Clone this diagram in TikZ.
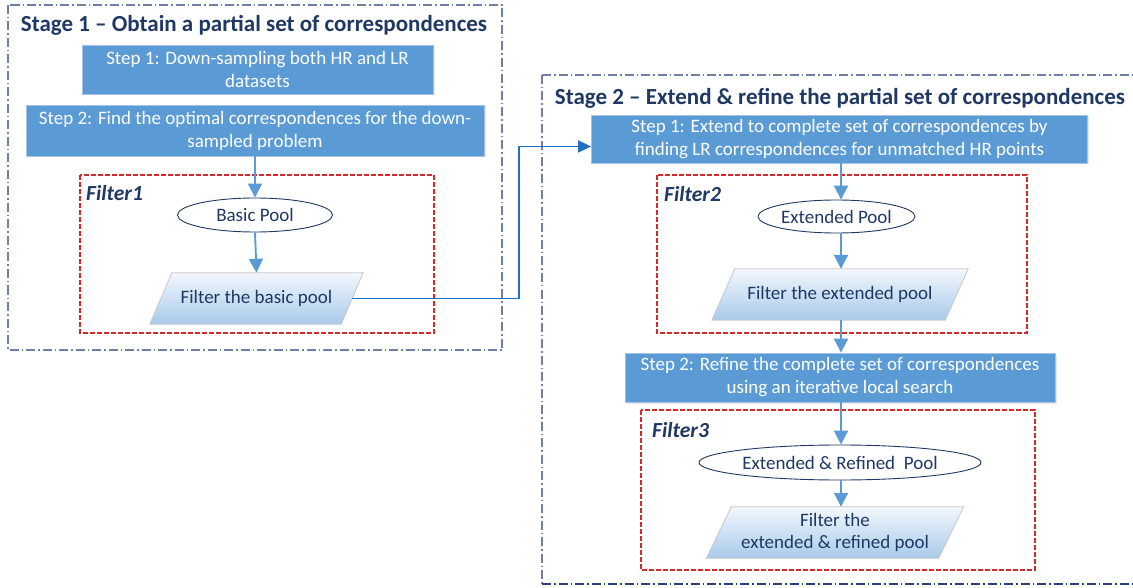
\documentclass[tikz,border=0pt]{standalone}
\usepackage{fontspec}
\setmainfont{Carlito}
\usetikzlibrary{shapes.geometric,arrows.meta,shadows,calc}
\pgfdeclarelayer{background}
\pgfsetlayers{background,main}
\definecolor{stepblue}{HTML}{5B9BD5}
\definecolor{stepedge}{HTML}{A7C3E3}
\definecolor{navy}{HTML}{1F3864}
\definecolor{linkblue}{HTML}{1F6FC0}
\definecolor{stageedge}{HTML}{6F7FA6}
\definecolor{stagedark}{HTML}{2A3F7E}
\definecolor{filterred}{HTML}{D42A2A}
\definecolor{paratop}{HTML}{F2F7FC}
\definecolor{parabot}{HTML}{A8CAEA}
\tikzset{
  stagebox/.style={draw=stageedge, line width=1.1pt,
    dash pattern=on 9pt off 3pt on 1.5pt off 3pt},
  filterbox/.style={draw=filterred, line width=1.2pt,
    dash pattern=on 5pt off 2pt},
  stagetitle/.style={text=navy, font=\fontsize{23}{26}\selectfont\bfseries, inner sep=0pt},
  filtertitle/.style={text=navy, font=\fontsize{21.5}{24}\selectfont\bfseries\itshape, inner sep=0pt, anchor=west},
  stepbox/.style={rectangle, fill=stepblue, draw=stepedge, line width=0.8pt,
    text=white, align=center, inner sep=0pt,
    font=\fontsize{19}{23}\selectfont,
    drop shadow={shadow xshift=1.5pt, shadow yshift=-1.5pt, opacity=0.18}},
  poolnode/.style={ellipse, draw=navy, line width=0.9pt, fill=white,
    text=navy, inner sep=0pt, font=\fontsize{19}{22}\selectfont},
  filternode/.style={rectangle, text=navy, align=center,
    inner sep=0pt, font=\fontsize{19}{22}\selectfont},
  parashape/.style={draw=black!22, line width=0.8pt,
    top color=paratop, bottom color=parabot},
  flow/.style={draw=stepblue, line width=1.9pt,
    -{Triangle[width=14pt,length=14pt]}},
  link/.style={draw=linkblue, line width=1.8pt,
    -{Triangle[width=12pt,length=13pt]}},
}
% slanted body behind a filter node: #1 node name, #2 half slant
\newcommand{\slantbody}[2]{%
  \begin{pgfonlayer}{background}
    \shade[parashape] ([xshift=-#2]#1.south west) -- ([xshift=-#2]#1.south east)
      -- ([xshift=#2]#1.north east) -- ([xshift=#2]#1.north west) -- cycle;
  \end{pgfonlayer}}
\begin{document}
\begin{tikzpicture}[x=1pt, y=-1pt]
\useasboundingbox (0,0) rectangle (1133,588);

% Stage frames
\draw[stagebox] (8,5) rectangle (502,350);
\draw[stagebox] (542,75) -- (1140,75);
\draw[stagebox] (542,75) -- (542,584);
\draw[stagebox, draw=stagedark] (542,584) -- (1140,584);

% Filter frames
\draw[filterbox] (80,175) rectangle (434,333);
\draw[filterbox] (657,175) rectangle (1027,333);
\draw[filterbox] (641,410) rectangle (1035,570);

% Stage 1
\node[stagetitle] (t1) at (254,25) {Stage 1 – Obtain a partial set of correspondences};
\node[stepbox, minimum width=351pt, minimum height=49pt] (a1) at (257.5,69.5)
  {Step 1: Down-sampling both HR and LR\\datasets};
\node[stepbox, minimum width=458pt, minimum height=51pt] (a2) at (255,130.5)
  {Step 2: Find the optimal correspondences for the down-\\sampled problem};
\node[filtertitle] (f1) at (86,193) {Filter1};
\node[poolnode, minimum width=155pt, minimum height=34pt] (p1) at (255,215) {Basic Pool};
\node[filternode, minimum width=191pt, minimum height=51pt] (q1) at (256.5,298.5)
  {Filter the basic pool};
\slantbody{q1}{11pt}

% Stage 2
\node[stagetitle] (t2) at (840,98) {Stage 2 – Extend \& refine the partial set of correspondences};
\node[stepbox, minimum width=496pt, minimum height=48pt] (b1) at (839.5,139)
  {Step 1: Extend to complete set of correspondences by\\finding LR correspondences for unmatched HR points};
\node[filtertitle] (f2) at (664,194) {Filter2};
\node[poolnode, minimum width=157pt, minimum height=33pt] (p2) at (836.5,216.5) {Extended Pool};
\node[filternode, minimum width=233pt, minimum height=51pt] (q2) at (840,294.5)
  {Filter the extended pool};
\slantbody{q2}{11.5pt}
\node[stepbox, minimum width=430pt, minimum height=49pt] (b2) at (840,377.5)
  {Step 2: Refine the complete set of correspondences\\using an iterative local search};
\node[filtertitle] (f3) at (652,430) {Filter3};
\node[poolnode, minimum width=282pt, minimum height=35pt] (p3) at (840,462.5)
  {Extended \& Refined\ \ Pool};
\node[filternode, minimum width=232pt, minimum height=51pt] (q3) at (835,532.5)
  {Filter the\\extended \& refined pool};
\slantbody{q3}{12.5pt}

% Flow arrows
\coordinate (axis) at (841,0);
\draw[flow] (a2.south) -- (p1.north);
\draw[flow] (p1.south) -- (q1.north);
\draw[flow] (b1.south -| axis) -- (p2.north -| axis);
\draw[flow] (p2.south -| axis) -- (q2.north -| axis);
\draw[flow] (q2.south -| axis) -- (b2.north -| axis);
\draw[flow] (b2.south -| axis) -- (p3.north -| axis);
\draw[flow] (p3.south -| axis) -- (q3.north -| axis);

% Link from stage 1 to stage 2
\coordinate (entry) at ([yshift=-7.5pt]b1.west);
\coordinate (bend) at (519,0);
\draw[link] (q1.east) -| (bend |- entry) -- (entry);
\end{tikzpicture}
\end{document}
